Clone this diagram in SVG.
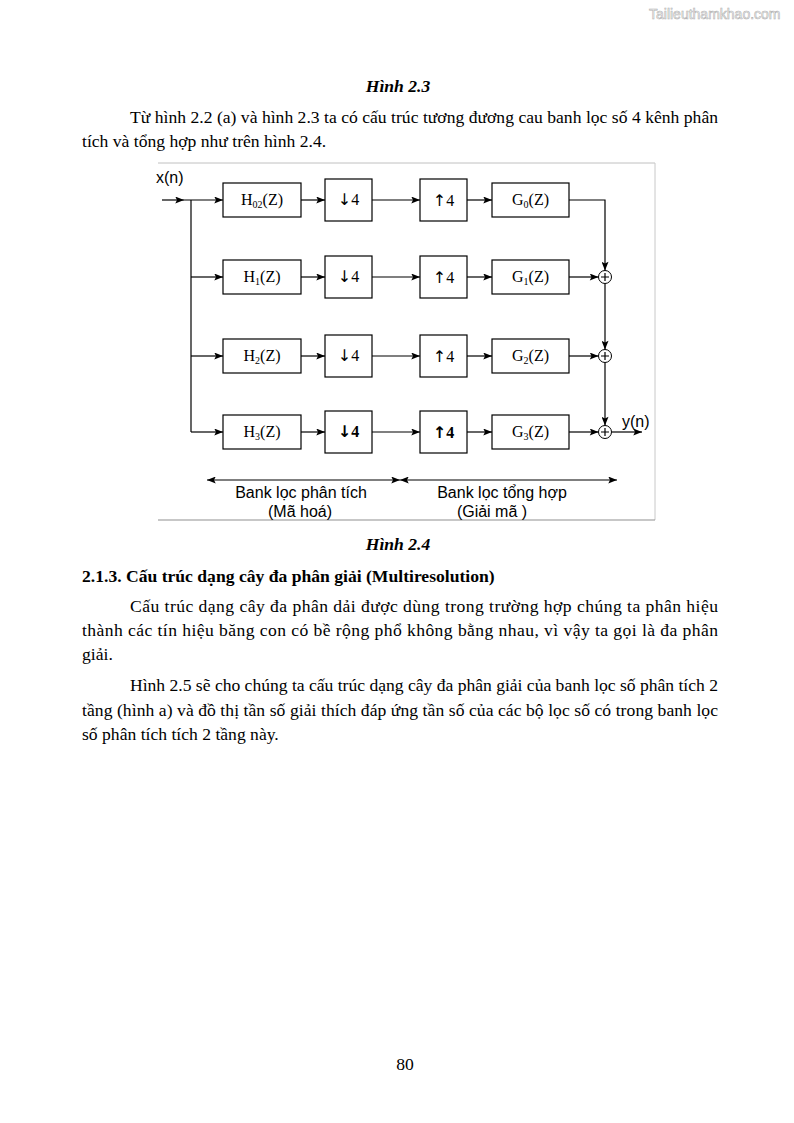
<svg xmlns="http://www.w3.org/2000/svg" width="794" height="1123" viewBox="0 0 794 1123">
<style>
.body{font-family:"Liberation Serif","Times New Roman",serif;font-size:17.6px;fill:#000}
.b{font-weight:bold}
.bi{font-weight:bold;font-style:italic}
.sans{font-family:"Liberation Sans",Arial,sans-serif;font-size:16px;fill:#000}
.lbl{font-family:"Liberation Serif","Times New Roman",serif;font-size:16px;fill:#000;text-anchor:middle}
.ar{font-family:"DejaVu Sans",sans-serif}
.box{fill:#fff;stroke:#000;stroke-width:1.2}
.ln{fill:none;stroke:#000;stroke-width:1.2}
.arr{fill:none;stroke:#000;stroke-width:1.2;marker-end:url(#ah)}
.dbl{fill:none;stroke:#000;stroke-width:1.2;marker-end:url(#ah);marker-start:url(#ah)}
.add{fill:#fff;stroke:#000;stroke-width:1}
</style>
<defs>
<marker id="ah" viewBox="0 0 10 8" refX="10" refY="4" markerWidth="10" markerHeight="7" orient="auto-start-reverse" markerUnits="userSpaceOnUse">
<path d="M0,0 L10,4 L0,8 L2,4 z" fill="#000"/>
</marker>
</defs>
<rect width="794" height="1123" fill="#fff"/>

<text x="649" y="19" font-family="Liberation Sans,Arial,sans-serif" font-size="14" fill="#fff" stroke="#b0b0b0" stroke-width="0.6">Tailieuthamkhao.com</text>

<text class="body bi" x="398" y="92" text-anchor="middle">Hình 2.3</text>
<text class="body" x="130" y="123" textLength="588" lengthAdjust="spacing">Từ hình 2.2 (a) và hình 2.3 ta có cấu trúc tương đương cau banh lọc số 4 kênh phân</text>
<text class="body" x="82" y="147">tích và tổng hợp như trên hình 2.4.</text>

<g id="frame">
<line x1="158" y1="163" x2="655" y2="163" stroke="#c0c0c0" stroke-width="1"/>
<line x1="655" y1="163" x2="655" y2="520" stroke="#c8c8c8" stroke-width="1"/>
<line x1="158" y1="520" x2="655" y2="520" stroke="#909090" stroke-width="1.2"/>
</g>

<g id="connectors">
<path class="arr" d="M162,200 H184"/>
<path class="arr" d="M184,200 H223"/>
<path class="ln" d="M191,200 V432"/>
<path class="arr" d="M191,277 H223"/>
<path class="arr" d="M191,356 H223"/>
<path class="arr" d="M191,432 H223"/>
<path class="arr" d="M301,200 H325"/>
<path class="arr" d="M301,277 H325"/>
<path class="arr" d="M301,356 H325"/>
<path class="arr" d="M301,432 H325"/>
<path class="arr" d="M372,200 H420"/>
<path class="arr" d="M372,277 H420"/>
<path class="arr" d="M372,356 H420"/>
<path class="arr" d="M372,432 H420"/>
<path class="arr" d="M467,200 H492"/>
<path class="arr" d="M467,277 H492"/>
<path class="arr" d="M467,356 H492"/>
<path class="arr" d="M467,432 H492"/>
<path class="arr" d="M569,200 H605 V270.5"/>
<path class="arr" d="M569,277 H598.5"/>
<path class="arr" d="M605,283.5 V349.5"/>
<path class="arr" d="M569,356 H598.5"/>
<path class="arr" d="M605,362.5 V425.5"/>
<path class="arr" d="M569,432 H598.5"/>
<path class="arr" d="M611.5,432 H642"/>
<path class="dbl" d="M207,480 H400"/>
<path class="dbl" d="M400,480 H617"/>
</g>

<text class="sans" x="156" y="183">x(n)</text>
<text class="sans" x="622" y="427">y(n)</text>

<g id="H0"><rect class="box" x="223" y="183" width="78" height="34"/><text class="lbl" x="262" y="205">H<tspan font-size="10" dy="3">02</tspan><tspan dy="-3">(Z)</tspan></text></g>
<g id="H1"><rect class="box" x="223" y="260" width="78" height="34"/><text class="lbl" x="262" y="282">H<tspan font-size="10" dy="3">1</tspan><tspan dy="-3">(Z)</tspan></text></g>
<g id="H2"><rect class="box" x="223" y="339" width="78" height="34"/><text class="lbl" x="262" y="361">H<tspan font-size="10" dy="3">2</tspan><tspan dy="-3">(Z)</tspan></text></g>
<g id="H3"><rect class="box" x="223" y="415" width="78" height="34"/><text class="lbl" x="262" y="437">H<tspan font-size="10" dy="3">3</tspan><tspan dy="-3">(Z)</tspan></text></g>

<g id="D0"><rect class="box" x="325" y="179" width="47" height="42"/><text class="lbl" x="348.5" y="205" font-size="13"><tspan class="ar">↓</tspan>4</text></g>
<g id="D1"><rect class="box" x="325" y="256" width="47" height="42"/><text class="lbl" x="348.5" y="282" font-size="13"><tspan class="ar">↓</tspan>4</text></g>
<g id="D2"><rect class="box" x="325" y="335" width="47" height="42"/><text class="lbl" x="348.5" y="361" font-size="13"><tspan class="ar">↓</tspan>4</text></g>
<g id="D3"><rect class="box" x="325" y="411" width="47" height="42"/><text class="lbl" x="348.5" y="437" font-size="14" font-weight="bold"><tspan class="ar">↓</tspan>4</text></g>

<g id="U0"><rect class="box" x="420" y="179" width="47" height="42"/><text class="lbl" x="443.5" y="206" font-size="17"><tspan class="ar">↑</tspan>4</text></g>
<g id="U1"><rect class="box" x="420" y="256" width="47" height="42"/><text class="lbl" x="443.5" y="283" font-size="17"><tspan class="ar">↑</tspan>4</text></g>
<g id="U2"><rect class="box" x="420" y="335" width="47" height="42"/><text class="lbl" x="443.5" y="362" font-size="17"><tspan class="ar">↑</tspan>4</text></g>
<g id="U3"><rect class="box" x="420" y="411" width="47" height="42"/><text class="lbl" x="443.5" y="438" font-size="17" font-weight="bold"><tspan class="ar">↑</tspan>4</text></g>

<g id="G0"><rect class="box" x="492" y="183" width="77" height="34"/><text class="lbl" x="530.5" y="205">G<tspan font-size="10" dy="3">0</tspan><tspan dy="-3">(Z)</tspan></text></g>
<g id="G1"><rect class="box" x="492" y="260" width="77" height="34"/><text class="lbl" x="530.5" y="282">G<tspan font-size="10" dy="3">1</tspan><tspan dy="-3">(Z)</tspan></text></g>
<g id="G2"><rect class="box" x="492" y="339" width="77" height="34"/><text class="lbl" x="530.5" y="361">G<tspan font-size="10" dy="3">2</tspan><tspan dy="-3">(Z)</tspan></text></g>
<g id="G3"><rect class="box" x="492" y="415" width="77" height="34"/><text class="lbl" x="530.5" y="437">G<tspan font-size="10" dy="3">3</tspan><tspan dy="-3">(Z)</tspan></text></g>

<g id="S1"><circle class="add" cx="605" cy="277" r="6.5"/><path class="ln" stroke-width="1" d="M601,277 H609 M605,273 V281"/></g>
<g id="S2"><circle class="add" cx="605" cy="356" r="6.5"/><path class="ln" stroke-width="1" d="M601,356 H609 M605,352 V360"/></g>
<g id="S3"><circle class="add" cx="605" cy="432" r="6.5"/><path class="ln" stroke-width="1" d="M601,432 H609 M605,428 V436"/></g>

<text class="sans" x="301" y="498" text-anchor="middle">Bank lọc phân tích</text>
<text class="sans" x="300" y="517" text-anchor="middle">(Mã hoá)</text>
<text class="sans" x="502" y="498" text-anchor="middle">Bank lọc tổng hợp</text>
<text class="sans" x="492" y="517" text-anchor="middle">(Giải mã )</text>

<text class="body bi" x="398" y="550" text-anchor="middle">Hình 2.4</text>
<text class="body b" x="82" y="582">2.1.3. Cấu trúc dạng cây đa phân giải (Multiresolution)</text>
<text class="body" x="130" y="612" textLength="588" lengthAdjust="spacing">Cấu trúc dạng cây đa phân dải được dùng trong trường hợp chúng ta phân hiệu</text>
<text class="body" x="82" y="636" textLength="636" lengthAdjust="spacing">thành các tín hiệu băng con có bề rộng phổ không bằng nhau, vì vậy ta gọi là đa phân</text>
<text class="body" x="82" y="660">giải.</text>
<text class="body" x="130" y="691" textLength="588" lengthAdjust="spacing">Hình 2.5 sẽ cho chúng ta cấu trúc dạng cây đa phân giải của banh lọc số phân tích 2</text>
<text class="body" x="82" y="716" textLength="636" lengthAdjust="spacing">tầng (hình a) và đồ thị tần số giải thích đáp ứng tần số của các bộ lọc số có trong banh lọc</text>
<text class="body" x="82" y="740">số phân tích tích 2 tầng này.</text>

<text class="body" x="405" y="1070" text-anchor="middle">80</text>
</svg>
